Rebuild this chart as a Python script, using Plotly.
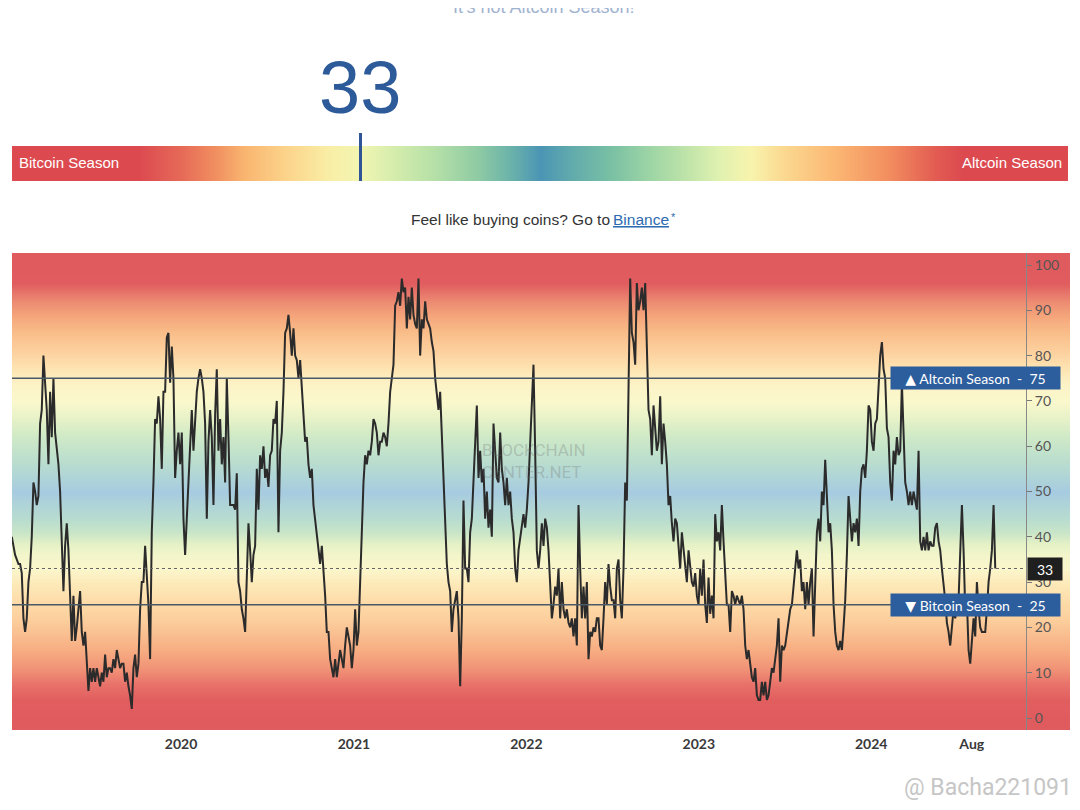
import pandas as pd
import plotly.graph_objects as go

# the page body adds an 8px margin, so the figure is 8px smaller than the window
W, H = 1072, 802
OFF = 8

# Altcoin Season Index, every ~3.5 days (Jan 2019 -> Sep 2024)
season_index = [
    40, 38, 36, 35, 34, 34, 32, 22, 19, 22, 30, 33, 40, 52, 50, 47, 49, 65, 68, 80,
    74, 68, 56, 72, 62, 75, 63, 60, 56, 50, 38, 28, 38, 43, 37, 28, 17, 27, 17, 20,
    25, 28, 19, 16, 19, 11, 6, 11, 8, 11, 8, 11, 9, 7, 10, 8, 14, 9, 11, 11,
    10, 13, 11, 15, 13, 11, 12, 12, 8, 10, 7, 5, 2, 11, 14, 9, 12, 24, 30, 30,
    38, 30, 25, 13, 41, 52, 66, 65, 71, 66, 55, 72, 72, 84, 85, 74, 82, 75, 53, 59,
    63, 56, 63, 44, 36, 44, 52, 59, 68, 59, 65, 72, 75, 77, 75, 72, 65, 44, 61, 68,
    62, 47, 67, 77, 59, 66, 56, 62, 52, 75, 62, 47, 47, 47, 46, 54, 30, 28, 24, 22,
    19, 30, 43, 37, 30, 36, 38, 55, 46, 58, 55, 60, 53, 55, 51, 58, 59, 66, 65, 70,
    41, 59, 63, 72, 85, 86, 89, 85, 80, 86, 80, 79, 75, 79, 72, 65, 61, 62, 56, 53,
    55, 47, 44, 41, 37, 34, 38, 33, 27, 19, 19, 13, 11, 9, 13, 9, 12, 15,
    13, 11, 16, 20, 18, 16, 11, 15, 24, 16, 19, 30,
    41, 52, 58, 56, 59, 58, 61, 66, 65, 63, 58, 61, 61, 63, 62, 60, 65, 72, 75, 78,
    91, 92, 94, 91, 97, 94, 95, 86, 93, 88, 95, 89, 87, 86, 97, 80, 88, 86, 92, 88,
    87, 86, 83, 81, 75, 71, 68, 72, 62, 55, 44, 34, 30, 28, 19, 24, 26, 28, 22, 7,
    22, 48, 33, 33, 30, 41, 44, 52, 58, 69, 53, 59, 52, 55, 44, 50, 42, 46, 40, 65,
    59, 53, 52, 63, 55, 52, 47, 53, 47, 50, 44, 41, 33, 30, 37, 40, 43, 45, 42, 46,
    52, 62, 68, 78, 59, 37, 33, 37, 43, 38, 44, 42, 37, 28, 22, 25, 29, 27, 33, 22,
    30, 24, 22, 24, 21, 20, 22, 18, 22, 16, 47, 33, 22, 29, 22, 30, 13, 19, 18, 20,
    19, 22, 22, 16, 15, 22, 30, 25, 34, 29, 26, 26, 22, 33, 35, 26, 22, 33, 52, 48,
    74, 97, 85, 83, 78, 96, 90, 92, 95, 90, 96, 83, 68, 66, 58, 69, 63, 59, 61, 71,
    56, 65, 61, 56, 47, 49, 43, 39, 44, 43, 38, 33,
    41, 37, 33, 30, 37, 33, 30, 29,
    32, 27, 25, 33, 27, 35, 25, 21, 31, 23, 27, 22, 45, 39, 41, 37, 47, 39, 33, 25,
    25, 19, 28, 27, 25, 27, 26, 25, 27, 24, 16, 13, 15, 12, 9, 8, 11, 5, 4, 4,
    8, 5, 8, 4, 5, 8, 11, 10, 13, 16, 22, 8, 16, 15, 16, 19, 21, 24, 25, 30,
    33, 37, 33, 35, 28, 30, 24, 30, 25, 30, 33, 18, 30, 41, 44, 39, 50, 47, 57, 48,
    41, 43, 37, 25, 19, 16, 15, 17, 15, 20, 26, 36, 49, 44, 39, 43, 41, 44, 38, 50,
    55, 56, 53, 59, 69, 68, 61, 59, 65, 66, 74, 80, 83, 77, 75, 64, 62, 52, 48, 59,
    56, 62, 58, 59, 74, 62, 52, 50, 47, 50, 47, 50, 48, 46, 59, 39, 37, 40, 37, 41,
    37, 39, 38, 38, 42, 43, 39, 37, 33, 30, 26, 21, 19, 16, 20, 24, 22, 25, 26, 37,
    47, 37, 24, 26, 15, 12, 18, 22, 18, 30, 24, 20, 19, 19, 19, 24, 30, 33, 37, 47,
    33,
]
start_date = '2019-01-07 12:00'
step = '5082min'
dates = pd.date_range(start_date, periods=len(season_index), freq=step)

current_value = 33
altcoin_level = 75
bitcoin_level = 25

x_range = ['2019-01-08', '2025-02-25']
year_ticks = ['2020-01-01', '2021-01-01', '2022-01-01', '2023-01-01', '2024-01-01', '2024-08-01']
year_labels = ['2020', '2021', '2022', '2023', '2024', 'Aug']
value_ticks = [0, 10, 20, 30, 40, 50, 60, 70, 80, 90, 100]

# background colour bands (index level -> colour)
bg_stops = [
    (0, '#e05b5e'), (4, '#e15e5f'), (7.5, '#e8726a'), (10.5, '#f09075'), (15, '#f7ad82'),
    (22, '#fcd09e'), (25, '#fdd9a6'), (29.5, '#fde9b8'), (33, '#fbf6cc'), (36, '#f3f5ca'),
    (38.5, '#e5f1c6'), (41, '#c8e5c8'), (44, '#b8dccf'), (47, '#afd4d8'), (50, '#a7cbe0'),
    (53, '#afd4d8'), (56, '#b8dccf'), (59, '#c2e2cb'), (63, '#d3ebc6'), (66.5, '#e9f2c8'),
    (70, '#faf8cc'), (74, '#fcf2c6'), (77.5, '#fde2b0'), (81, '#fcd09e'), (85, '#f9be8a'),
    (88.5, '#f5a77b'), (92, '#ec8a72'), (96, '#e05c5f'), (100, '#e05b5e'),
]
gauge_stops = [
    (0, '#dc4a50'), (12, '#dc4a50'), (16, '#e66a58'), (19, '#f08c5f'), (22, '#f9b570'),
    (26, '#fcd48b'), (30, '#f9eea6'), (33, '#f2f5b2'), (36, '#d6edac'), (40, '#b6e0a8'),
    (44, '#8fcba3'), (47.5, '#67afab'), (50, '#4b95b5'), (53, '#62abac'), (56.5, '#78bfa4'),
    (60, '#9ad3a5'), (63, '#b6e0a8'), (67, '#e1f2b0'), (70, '#f8f3ad'), (73, '#fbd990'),
    (78, '#fbb673'), (83, '#f28e5f'), (87.5, '#e25b52'), (90, '#dc4a50'), (100, '#dc4a50'),
]


def px_x(v):
    # window pixel -> paper fraction
    return (v - OFF) / W


def px_y(v):
    return 1 - (v - OFF) / H


bg_levels = [-3] + [s[0] for s in bg_stops] + [103]
bg_scale = [[s[0] / 100, s[1]] for s in bg_stops]
gauge_levels = [s[0] for s in gauge_stops]
gauge_scale = [[s[0] / 100, s[1]] for s in gauge_stops]

fig = go.Figure()

# fondo degradado del gráfico
fig.add_trace(go.Heatmap(
    x=x_range, y=bg_levels, z=[[v, v] for v in bg_levels],
    colorscale=bg_scale, zmin=0, zmax=100, zsmooth='best',
    showscale=False, hoverinfo='skip', xaxis='x', yaxis='y'
))

fig.add_trace(go.Scatter(
    x=dates, y=season_index, mode='lines',
    line=dict(color='#2b2b2b', width=2), xaxis='x', yaxis='y',
    hovertemplate='%{x|%d %b %Y}: %{y}<extra></extra>'
))

# barra del indicador
fig.add_trace(go.Heatmap(
    x=gauge_levels, y=[0, 1], z=[gauge_levels, gauge_levels],
    colorscale=gauge_scale, zmin=0, zmax=100, zsmooth='best',
    showscale=False, hoverinfo='skip', xaxis='x2', yaxis='y2'
))

shapes = [
    dict(type='line', xref='paper', yref='y', x0=px_x(12), x1=px_x(1026),
         y0=altcoin_level, y1=altcoin_level, line=dict(color='#4b5866', width=1.5), layer='above'),
    dict(type='line', xref='paper', yref='y', x0=px_x(12), x1=px_x(1026),
         y0=bitcoin_level, y1=bitcoin_level, line=dict(color='#4b5866', width=1.5), layer='above'),
    dict(type='line', xref='paper', yref='y', x0=px_x(12), x1=px_x(1026),
         y0=current_value, y1=current_value, line=dict(color='#666666', width=1, dash='dot'), layer='above'),
    dict(type='line', xref='x2', yref='paper', x0=current_value, x1=current_value,
         y0=px_y(181), y1=px_y(133), line=dict(color='#2f5596', width=3)),
]

label_font = dict(family='Lato, DejaVu Sans', size=14, color='white')
annotations = [
    dict(text="It's not Altcoin Season!", xref='paper', yref='paper', x=0.5, y=px_y(7),
         yanchor='middle', showarrow=False,
         font=dict(family='Liberation Sans', size=18, color='#9fb3cf')),
    dict(text=str(current_value), xref='x2', yref='paper', x=current_value, y=px_y(87),
         xanchor='center', yanchor='middle', showarrow=False,
         font=dict(family='Liberation Sans', size=74, color='#2d5b99')),
    dict(text='Bitcoin Season', xref='paper', yref='paper', x=px_x(17), y=px_y(162),
         xanchor='left', yanchor='middle', showarrow=False,
         font=dict(family='Liberation Sans', size=15, color='white')),
    dict(text='Altcoin Season', xref='paper', yref='paper', x=px_x(1064), y=px_y(162),
         xanchor='right', yanchor='middle', showarrow=False,
         font=dict(family='Liberation Sans', size=15, color='white')),
    dict(text='Feel like buying coins? Go to', xref='paper', yref='paper', x=px_x(612), y=px_y(219),
         xanchor='right', yanchor='middle', showarrow=False,
         font=dict(family='Liberation Sans', size=15.5, color='#333333')),
    dict(text='Binance', xref='paper', yref='paper', x=px_x(611), y=px_y(219),
         xanchor='left', yanchor='middle', showarrow=False,
         font=dict(family='Liberation Sans', size=15.5, color='#2e6bb0', lineposition='under')),
    dict(text='*', xref='paper', yref='paper', x=px_x(669), y=px_y(217),
         xanchor='left', yanchor='middle', showarrow=False,
         font=dict(family='Liberation Sans', size=11, color='#2e6bb0')),
    dict(text='BLOCKCHAIN<br>CENTER.NET', xref='paper', yref='paper', x=px_x(480), y=px_y(461),
         xanchor='left', yanchor='middle', align='left', showarrow=False,
         font=dict(family='Roboto', size=17, color='rgba(110,110,110,0.3)')),
    dict(text='@ Bacha221091', xref='paper', yref='paper', x=px_x(1074), y=px_y(787),
         xanchor='right', yanchor='middle', showarrow=False,
         font=dict(family='Roboto', size=23, color='#c6c6c6')),
    dict(text='▲ Altcoin Season  -  %d' % altcoin_level, xref='paper', yref='y',
         x=px_x(1061), y=altcoin_level, xanchor='right', yanchor='middle', showarrow=False,
         width=165, height=18, borderpad=2, bgcolor='#2c5d9c', font=label_font),
    dict(text='▼ Bitcoin Season  -  %d' % bitcoin_level, xref='paper', yref='y',
         x=px_x(1061), y=bitcoin_level, xanchor='right', yanchor='middle', showarrow=False,
         width=165, height=18, borderpad=2, bgcolor='#2c5d9c', font=label_font),
    dict(text=str(current_value), xref='paper', yref='y',
         x=px_x(1027), y=current_value, xanchor='left', yanchor='middle', showarrow=False,
         width=30, height=18, borderpad=2, bgcolor='#1f1f1f', font=label_font),
]

fig.update_layout(
    width=W, height=H,
    margin=dict(l=0, r=0, t=0, b=0),
    paper_bgcolor='white', plot_bgcolor='white',
    showlegend=False,
    shapes=shapes, annotations=annotations,
    xaxis=dict(
        domain=[px_x(12), px_x(1070)], range=x_range, anchor='y',
        tickvals=year_ticks, ticktext=year_labels, ticks='',
        showgrid=False, zeroline=False, showline=False,
        tickfont=dict(family='Lato', size=14, color='#3a3a3a', weight='bold'),
        ticklabelstandoff=4
    ),
    yaxis=dict(
        domain=[px_y(730), px_y(253)], range=[-2.65, 102.65],
        anchor='free', position=px_x(1026), side='right',
        tickvals=value_ticks, ticks='outside', ticklen=5, tickcolor='#777777',
        showline=True, linecolor='#888888', linewidth=1,
        showgrid=False, zeroline=False,
        tickfont=dict(family='Lato', size=14, color='#555555')
    ),
    xaxis2=dict(domain=[px_x(12), px_x(1068)], range=[0, 100], anchor='y2', visible=False),
    yaxis2=dict(domain=[px_y(181), px_y(146)], range=[0, 1], anchor='x2', visible=False),
)

fig.write_html("out.html")
